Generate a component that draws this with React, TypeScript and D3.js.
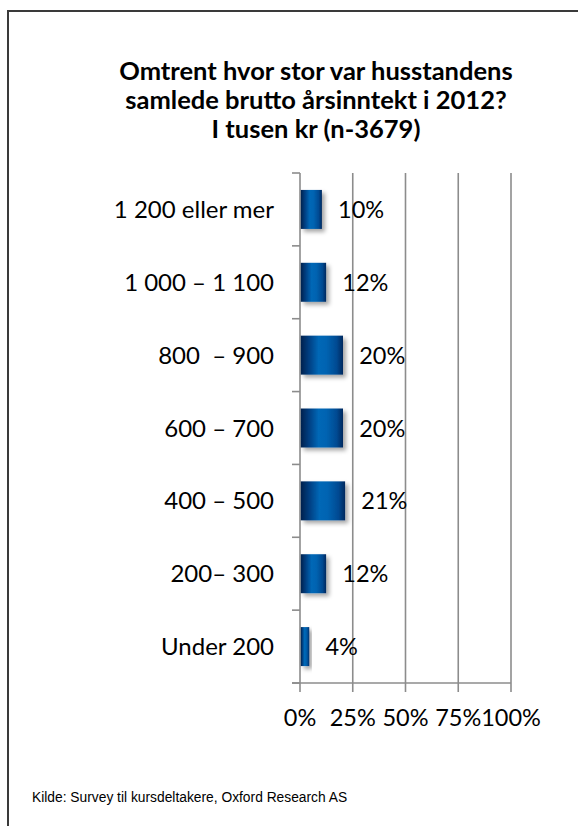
import React from "react";
import * as d3 from "d3";

const categories = [
  "1 200 eller mer",
  "1 000 – 1 100",
  "800  – 900",
  "600 – 700",
  "400 – 500",
  "200– 300",
  "Under 200",
];
const values = [10, 12, 20, 20, 21, 12, 4];
const xTicks = [0, 25, 50, 75, 100];
const titleLines = [
  "Omtrent hvor stor var husstandens",
  "samlede brutto årsinntekt i 2012?",
  "I tusen kr (n-3679)",
];
const source = "Kilde: Survey til kursdeltakere, Oxford Research AS";

const W = 578;
const H = 826;
const plot = { left: 300, right: 511, top: 173, bottom: 683 };
const labelFont = "Lato, Calibri, 'Open Sans', sans-serif";

export default function App() {
  const x = d3.scaleLinear().domain([0, 100]).range([plot.left, plot.right]);
  const y = d3
    .scaleBand<string>()
    .domain(categories)
    .range([plot.top, plot.bottom])
    .paddingInner(0.465)
    .paddingOuter(0.2325);
  const step = y.step();
  const boundaries = d3.range(categories.length + 1).map((i) => plot.top + i * step);
  const gridColor = "#8c8c8c";

  return (
    <svg
      width={W}
      height={H}
      style={{ position: "absolute", left: 0, top: 0, background: "#fff" }}
    >
      <defs>
        <linearGradient id="barGrad" x1="0" x2="1" y1="0" y2="0">
          <stop offset="0" stopColor="#00224d" />
          <stop offset="0.18" stopColor="#003c7e" />
          <stop offset="0.42" stopColor="#0067b6" />
          <stop offset="0.6" stopColor="#0064b2" />
          <stop offset="0.85" stopColor="#004a92" />
          <stop offset="1" stopColor="#00285e" />
        </linearGradient>
        <filter id="shadow" x="-30%" y="-30%" width="160%" height="160%">
          <feDropShadow dx="3" dy="3" stdDeviation="2.2" floodColor="#000" floodOpacity="0.35" />
        </filter>
      </defs>

      {/* outer frame */}
      <path d={`M8,${H} L8,11 L${W},11`} fill="none" stroke="#3a3a3a" strokeWidth={2} />

      {/* title */}
      <g fontFamily={labelFont} fontWeight="bold" fontSize={25.5} fill="#000" textAnchor="middle">
        {titleLines.map((t, i) => (
          <text key={i} x={316} y={80 + i * 29}>
            {t}
          </text>
        ))}
      </g>

      {/* gridlines */}
      {xTicks.map((t) => (
        <line
          key={t}
          x1={x(t)}
          x2={x(t)}
          y1={plot.top}
          y2={plot.bottom + 9}
          stroke={gridColor}
          strokeWidth={1.6}
        />
      ))}
      {/* axis line x */}
      <line x1={plot.left - 8} x2={plot.right} y1={plot.bottom} y2={plot.bottom} stroke={gridColor} strokeWidth={1.6} />
      {/* y ticks */}
      {boundaries.map((b, i) => (
        <line key={i} x1={plot.left - 8} x2={plot.left} y1={b} y2={b} stroke={gridColor} strokeWidth={1.6} />
      ))}

      {/* bars */}
      {categories.map((c, i) => (
        <rect
          key={c}
          x={x(0) + 0.8}
          y={y(c)}
          width={x(values[i]) - x(0)}
          height={y.bandwidth()}
          fill="url(#barGrad)"
          filter="url(#shadow)"
        />
      ))}

      {/* category labels */}
      <g fontFamily={labelFont} fontSize={24} fill="#000" textAnchor="end">
        {categories.map((c) => (
          <text key={c} x={274} y={(y(c) as number) + y.bandwidth() / 2 + 8.5} style={{ whiteSpace: "pre" }}>
            {c}
          </text>
        ))}
      </g>

      {/* value labels */}
      <g fontFamily={labelFont} fontSize={23.5} fill="#000">
        {categories.map((c, i) => (
          <text key={c} x={x(values[i]) + 17} y={(y(c) as number) + y.bandwidth() / 2 + 8.5}>
            {values[i] + "%"}
          </text>
        ))}
      </g>

      {/* x tick labels */}
      <g fontFamily={labelFont} fontSize={23.5} fill="#000" textAnchor="middle">
        {xTicks.map((t) => (
          <text key={t} x={x(t)} y={726}>
            {t + "%"}
          </text>
        ))}
      </g>

      {/* source */}
      <text x={32} y={802} fontFamily="'Liberation Sans', Arial, sans-serif" fontSize={13.8} fill="#000">
        {source}
      </text>
    </svg>
  );
}
